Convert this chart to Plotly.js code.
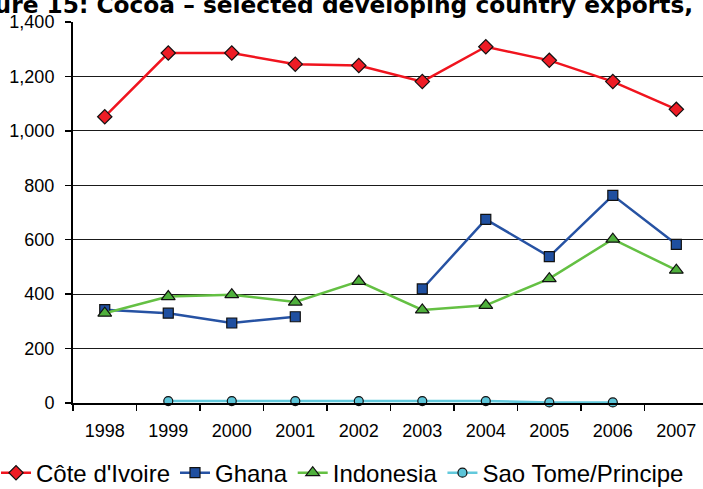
<!DOCTYPE html>
<html>
<head>
<meta charset="utf-8">
<script src="https://cdn.plot.ly/plotly-3.0.1.min.js"></script>
<style>
  html, body { margin: 0; padding: 0; background: #fff; overflow: hidden; }
  #chart { width: 703px; height: 489px; }
</style>
</head>
<body>
<div id="chart"></div>
<script>
// Cocoa exports of selected developing countries (thousand tonnes)
const years = ['1998', '1999', '2000', '2001', '2002', '2003', '2004', '2005', '2006', '2007'];
const coteDIvoire = [1052, 1286, 1286, 1245, 1240, 1181, 1309, 1259, 1181, 1079];
const ghana = [343, 330, 294, 317, null, 419, 675, 538, 763, 583];
const indonesia = [330, 391, 398, 371, 447, 342, 359, 457, 602, 488];
const saoTome = [null, 7, 7, 7, 7, 7, 7, 2, 2, null];
const yTicks = [0, 200, 400, 600, 800, 1000, 1200, 1400];
const titleText = 'Figure 15: Cocoa \u2013 selected developing country exports, 1998\u20132007 (thousand tonnes)';

const sans = "'Liberation Sans', Arial, sans-serif";

function series(name, values, lineColor, symbol, fill, size) {
  return {
    type: 'scatter', mode: 'lines+markers', name: name,
    x: years, y: values, connectgaps: false, cliponaxis: false,
    line: { color: lineColor, width: 2.5 },
    marker: { symbol: symbol, size: size, color: fill, line: { color: '#111', width: 1.2 } }
  };
}

const traces = [
  series("C\u00f4te d'Ivoire", coteDIvoire, '#f0141e', 'diamond', '#ee1c25', 11),
  series('Ghana', ghana, '#2652a3', 'square', '#1f4fa0', 10),
  series('Indonesia', indonesia, '#64c043', 'triangle-up', '#4fb03c', 12),
  series('Sao Tome/Principe', saoTome, '#62c9dc', 'circle', '#5cc4d8', 9)
];

const layout = {
  width: 703, height: 489,
  margin: { l: 73, r: 0, t: 22, b: 86.3, pad: 0, autoexpand: false },
  paper_bgcolor: '#fff', plot_bgcolor: '#fff',
  font: { family: sans, size: 18, color: '#000' },
  showlegend: true,
  xaxis: {
    type: 'category', range: [-0.5, 9.42], tickson: 'boundaries',
    ticks: 'outside', ticklen: 6, tickwidth: 1.5, tickcolor: '#000',
    showline: true, linecolor: '#000', linewidth: 2, showgrid: false,
    ticklabelstandoff: 10, zeroline: false, fixedrange: true, automargin: false
  },
  yaxis: {
    range: [0, 1400], tickvals: yTicks, tickformat: ',d',
    ticks: 'outside', ticklen: 6, tickwidth: 1.5, tickcolor: '#000',
    showline: true, linecolor: '#000', linewidth: 2,
    showgrid: true, gridcolor: '#1a1a1a', gridwidth: 1,
    zeroline: false, ticklabelstandoff: 7, fixedrange: true, automargin: false
  },
  legend: {
    orientation: 'h', x: -0.1222, xanchor: 'left', y: -0.184, yanchor: 'middle',
    font: { family: sans, size: 24 }, bgcolor: 'rgba(0,0,0,0)', itemclick: false
  },
  annotations: [{
    text: '<b>' + titleText + '</b>', xref: 'paper', yref: 'paper',
    x: -0.1925, y: 1.004, xanchor: 'left', yanchor: 'bottom', showarrow: false,
    font: { family: 'DejaVu Sans', size: 23.3, color: '#000' }
  }]
};

Plotly.newPlot('chart', traces, layout, { staticPlot: true, displayModeBar: false });
</script>
</body>
</html>
